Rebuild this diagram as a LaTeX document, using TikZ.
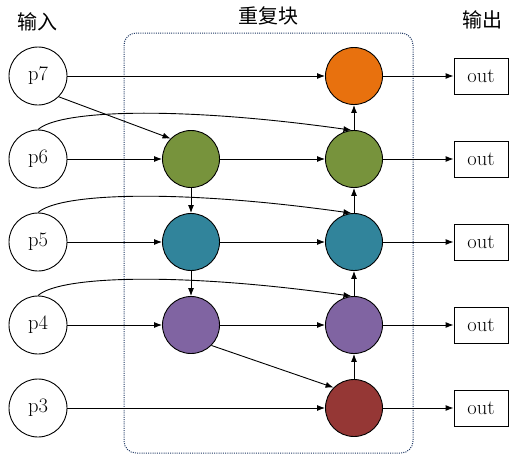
\documentclass[tikz,border=0pt]{standalone}
\usepackage{fontspec}
\newfontfamily\cjk{Noto Sans CJK SC}
\usetikzlibrary{arrows.meta}
\definecolor{cOrange}{HTML}{E8710E}
\definecolor{cGreen}{HTML}{77933C}
\definecolor{cTeal}{HTML}{31849B}
\definecolor{cPurple}{HTML}{8064A2}
\definecolor{cRed}{HTML}{953735}
\definecolor{cBox}{HTML}{1F3864}
\tikzset{
  inp/.style={circle,draw,line width=0.9pt,minimum size=58pt,inner sep=0pt,font=\fontsize{20.5}{24}\selectfont},
  blk/.style={circle,draw,line width=0.9pt,minimum size=57pt,inner sep=0pt,fill=#1},
  outbox/.style={rectangle,draw,line width=0.9pt,minimum width=54pt,minimum height=36pt,inner sep=0pt,font=\fontsize{20.5}{24}\selectfont},
  lbl/.style={font=\cjk\fontsize{20}{24}\selectfont,inner sep=0pt},
  arr/.style={-{Latex[length=8pt,width=6pt]},line width=0.9pt},
}
\begin{document}
\begin{tikzpicture}[x=1pt,y=-1pt]
\useasboundingbox (0,0) rectangle (509,456);
\node[draw=cBox,dash pattern=on 1pt off 1.2pt,line width=1pt,rounded corners=12pt,minimum width=289pt,minimum height=420pt,inner sep=0pt] (frame) at (268.5,243) {};
\node[lbl] (lin) at (37,22) {输入};
\node[lbl] (lblk) at (268,16) {重复块};
\node[lbl] (lout) at (482,20) {输出};
\foreach \n/\y in {7/76,6/159,5/242,4/325,3/408}{
  \node[inp] (p\n) at (38,\y) {p\n};
  \node[outbox] (o\n) at (481,\y) {out};
}
\node[blk=cGreen] (m6) at (191,159) {};
\node[blk=cTeal] (m5) at (191,242) {};
\node[blk=cPurple] (m4) at (191,325) {};
\node[blk=cOrange] (r7) at (354,76) {};
\node[blk=cGreen] (r6) at (354,159) {};
\node[blk=cTeal] (r5) at (354,242) {};
\node[blk=cPurple] (r4) at (354,325) {};
\node[blk=cRed] (r3) at (354,408) {};
% horizontals
\draw[arr] (p7) -- (r7);
\draw[arr] (p6) -- (m6);
\draw[arr] (m6) -- (r6);
\draw[arr] (p5) -- (m5);
\draw[arr] (m5) -- (r5);
\draw[arr] (p4) -- (m4);
\draw[arr] (m4) -- (r4);
\draw[arr] (p3) -- (r3);
\foreach \n in {7,6,5,4,3}{\draw[arr] (r\n) -- (o\n);}
% verticals
\draw[arr] (m6) -- (m5);
\draw[arr] (m5) -- (m4);
\draw[arr] (r3) -- (r4);
\draw[arr] (r4) -- (r5);
\draw[arr] (r5) -- (r6);
\draw[arr] (r6) -- (r7);
% diagonals
\draw[arr] (p7.south east) -- (m6.north west);
\draw[arr] (m4.south east) -- (r3.north west);
% curves
\foreach \n in {6,5,4}{
  \draw[arr] (p\n.north) .. controls +(22,-20) and +(-170,-24) .. (r\n.95);
}
\end{tikzpicture}
\end{document}
